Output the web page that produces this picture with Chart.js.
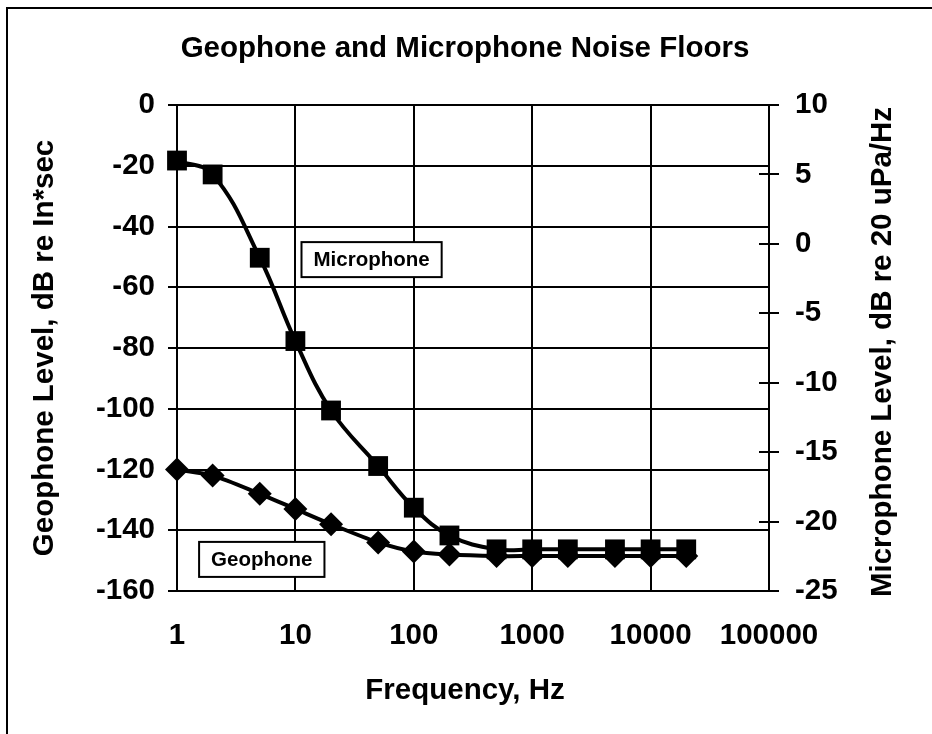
<!DOCTYPE html>
<html><head><meta charset="utf-8">
<script src="https://cdn.jsdelivr.net/npm/chart.js@4/dist/chart.umd.min.js"></script>
<style>html,body{margin:0;padding:0;background:#fff;} #wrap{width:932px;height:734px;}</style>
</head><body><div id="wrap"><canvas id="c" width="932" height="734"></canvas></div>
<script>
const chartTitle = 'Geophone and Microphone Noise Floors';
const xTitle = 'Frequency, Hz';
const yLeftTitle = 'Geophone Level, dB re In*sec';
const yRightTitle = 'Microphone Level, dB re 20 uPa/Hz';
const freqs = [1, 2, 5, 10, 20, 50, 100, 200, 500, 1000, 2000, 5000, 10000, 20000];
const geophone = [-120, -122, -128, -133, -138, -144, -147, -148, -148.5, -148.5, -148.5, -148.5, -148.5, -148.5];
const microphone = [6, 5, -1, -7, -12, -16, -19, -21, -22, -22, -22, -22, -22, -22];
const xTickValues = [1, 10, 100, 1000, 10000, 100000];
// series label boxes, anchored in data space (frequency, geophone-axis level)
const seriesLabelNames = ['Microphone', 'Geophone'];
const seriesLabelFreq = [44, 5.2];
const seriesLabelLevel = [-50.9, -149.6];

const FONT = '"Liberation Sans", Arial, sans-serif';
const BIG = 29.5;

const extras = {
  id: 'extras',
  afterDraw(chart) {
    const ctx = chart.ctx;
    const ca = chart.chartArea;
    const xs = chart.scales.x, yl = chart.scales.y, yr = chart.scales.y2;
    ctx.save();
    // outer frame (left & top visible)
    ctx.strokeStyle = '#000';
    ctx.lineWidth = 2;
    ctx.beginPath();
    ctx.moveTo(7, 734); ctx.lineTo(7, 8); ctx.lineTo(932, 8);
    ctx.stroke();
    // title
    ctx.fillStyle = '#000';
    ctx.font = 'bold ' + BIG + 'px ' + FONT;
    ctx.textAlign = 'center';
    ctx.textBaseline = 'middle';
    ctx.fillText(chartTitle, 465, 49);
    // x title
    ctx.fillText(xTitle, 465, 691);
    // right title, reading bottom to top
    ctx.save();
    ctx.translate(883, 352);
    ctx.rotate(-Math.PI / 2);
    ctx.fillText(yRightTitle, 0, 0);
    ctx.restore();
    // inner half of right-axis tick marks
    ctx.lineWidth = 2;
    yr.ticks.forEach(t => {
      const py = Math.round(yr.getPixelForValue(t.value));
      ctx.beginPath();
      ctx.moveTo(ca.right - 10, py);
      ctx.lineTo(ca.right, py);
      ctx.stroke();
    });
    // series label boxes
    ctx.font = 'bold 20.5px ' + FONT;
    seriesLabelNames.forEach((name, i) => {
      const cx = xs.getPixelForValue(seriesLabelFreq[i]);
      const cy = yl.getPixelForValue(seriesLabelLevel[i]);
      const w = ctx.measureText(name).width + 24;
      const h = 35;
      ctx.fillStyle = '#fff';
      ctx.fillRect(cx - w / 2, cy - h / 2, w, h);
      ctx.lineWidth = 2;
      ctx.strokeRect(cx - w / 2, cy - h / 2, w, h);
      ctx.fillStyle = '#000';
      ctx.fillText(name, cx, cy + 1);
    });
    ctx.restore();
  }
};

new Chart(document.getElementById('c'), {
  type: 'line',
  data: {
    datasets: [
      {
        label: 'Microphone',
        data: freqs.map((f, i) => ({ x: f, y: microphone[i] })),
        yAxisID: 'y2',
        borderColor: '#000', backgroundColor: '#000',
        pointBackgroundColor: '#000', pointBorderColor: '#000',
        borderWidth: 4, pointStyle: 'rect', pointRadius: 14, pointBorderWidth: 0,
        tension: 0.4, clip: false
      },
      {
        label: 'Geophone',
        data: freqs.map((f, i) => ({ x: f, y: geophone[i] })),
        yAxisID: 'y',
        borderColor: '#000', backgroundColor: '#000',
        pointBackgroundColor: '#000', pointBorderColor: '#000',
        borderWidth: 4, pointStyle: 'rectRot', pointRadius: 12, pointBorderWidth: 0,
        tension: 0.3, clip: false
      }
    ]
  },
  options: {
    responsive: false, animation: false,
    layout: { padding: { top: 105, left: 0, right: 0, bottom: 0 } },
    plugins: { legend: { display: false }, tooltip: { enabled: false }, title: { display: false } },
    scales: {
      x: {
        type: 'logarithmic', min: 1, max: 100000,
        afterBuildTicks: s => { s.ticks = xTickValues.map(v => ({ value: v })); },
        afterFit: s => { s.height = 143; },
        ticks: { callback: v => String(v), color: '#000', font: { family: FONT, size: BIG, weight: 'bold' }, padding: 27, maxRotation: 0, autoSkip: false },
        grid: { color: '#000', lineWidth: 2, drawTicks: false },
        border: { color: '#000', width: 2 }
      },
      y: {
        position: 'left', min: -160, max: 0,
        afterFit: s => { s.width = 177; },
        ticks: { stepSize: 20, color: '#000', font: { family: FONT, size: BIG, weight: 'bold' }, padding: 13 },
        grid: { color: '#000', lineWidth: 2, tickLength: 9 },
        border: { color: '#000', width: 2 },
        title: { display: true, text: yLeftTitle, color: '#000', font: { family: FONT, size: BIG, weight: 'bold' }, padding: { top: 27, bottom: 0 } }
      },
      y2: {
        position: 'right', min: -25, max: 10,
        afterFit: s => { s.width = 163; },
        ticks: { stepSize: 5, color: '#000', font: { family: FONT, size: BIG, weight: 'bold' }, padding: 16 },
        grid: { drawOnChartArea: false, color: '#000', lineWidth: 2, tickLength: 10 },
        border: { color: '#000', width: 2 }
      }
    }
  },
  plugins: [extras]
});
</script>
</body></html>
